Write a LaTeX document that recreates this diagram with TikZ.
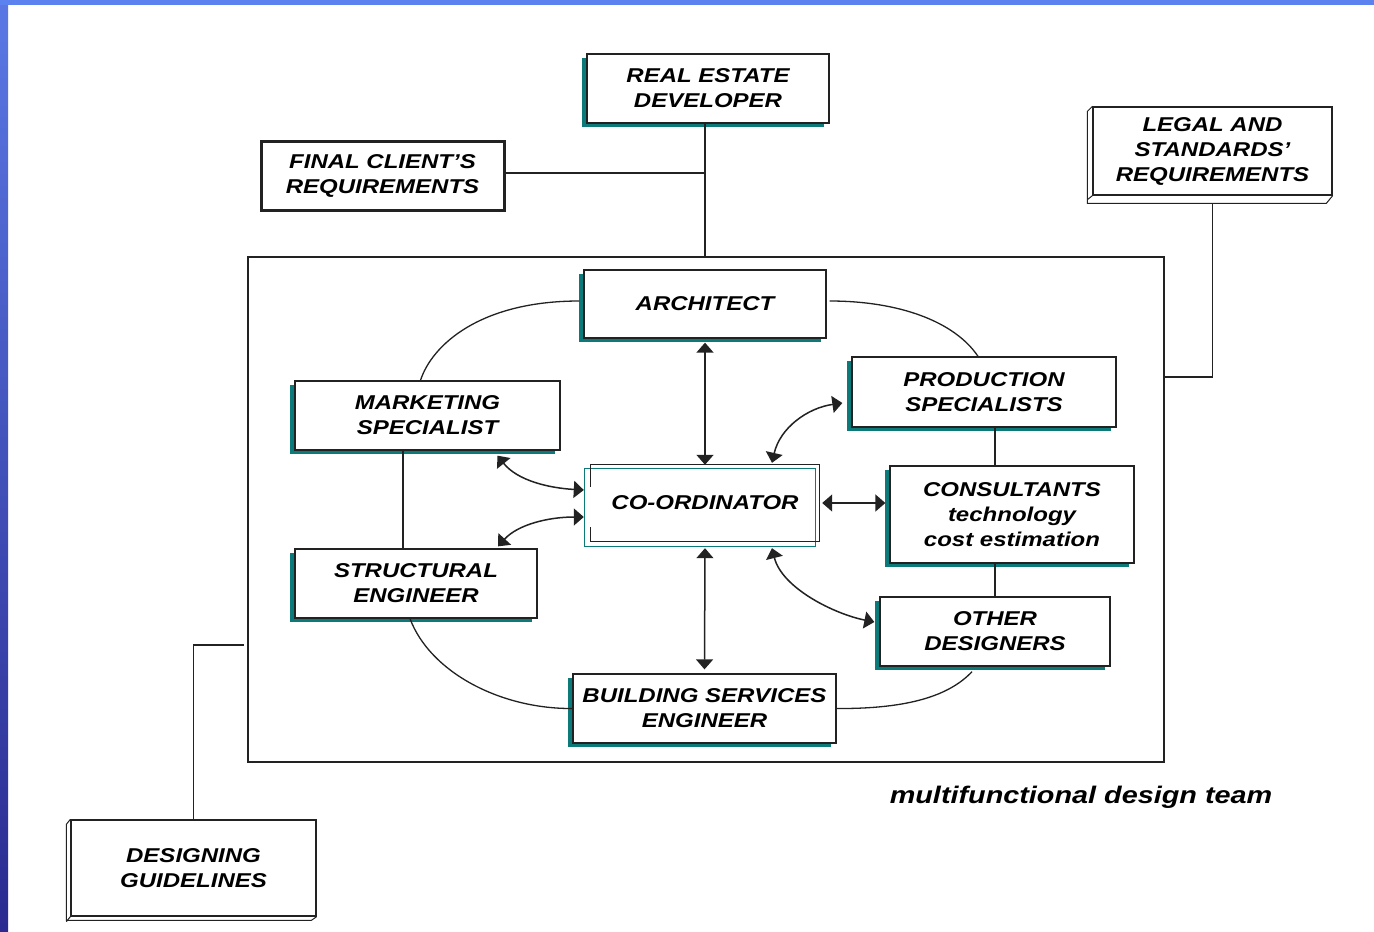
\documentclass[tikz,border=0pt]{standalone}
\usepackage{fontspec}
\usetikzlibrary{arrows.meta,shadows,calc}
\newfontfamily\boxfont{Liberation Sans}[FakeStretch=1.2]
\definecolor{tealsh}{HTML}{0B7A78}
\definecolor{linec}{HTML}{222222}
\definecolor{bluetop}{HTML}{5C82F0}
\definecolor{bluea}{HTML}{5A78E4}
\definecolor{blueb}{HTML}{2222A8}
\definecolor{bluec}{HTML}{2A2A90}
\tikzset{
  txt/.style={font=\boxfont\bfseries\itshape\fontsize{20}{25}\selectfont, align=center, text=black},
  plainbox/.style={txt, draw=linec, line width=1.3pt, fill=white, inner sep=0pt},
  sbox/.style={plainbox, general shadow={fill=tealsh, shadow xshift=-5pt, shadow yshift=-4pt}},
  thickbox/.style={plainbox, line width=3pt},
  conn/.style={draw=linec, line width=1.3pt},
  arr/.style={conn, line width=1.5pt, {Triangle[length=10pt,width=17pt]}-{Triangle[length=10pt,width=17pt]}},
}
\begin{document}
\begin{tikzpicture}[x=1pt,y=-1pt]
\useasboundingbox (0,0) rectangle (1374,932);
\fill[white] (0,0) rectangle (1374,932);
\shade[top color=bluea, middle color=blueb, bottom color=bluec] (0,0) rectangle (8,932);
\fill[bluetop] (0,0) rectangle (1374,5);

% team frame
\node[draw=linec, line width=1.2pt, minimum width=916, minimum height=505, inner sep=0pt] (team) at (706,509.5) {};

% outer nodes
\node[sbox, minimum width=242, minimum height=69] (red) at (708,88.5) {REAL ESTATE\\DEVELOPER};
\node[thickbox, minimum width=243, minimum height=69] (fcr) at (382.5,175.5) {FINAL CLIENT’S\\REQUIREMENTS};
\node[plainbox, minimum width=239, minimum height=88] (legal) at (1212.5,151) {LEGAL AND\\STANDARDS’\\REQUIREMENTS};
\node[plainbox, minimum width=245, minimum height=96] (dg) at (193.5,868) {DESIGNING\\GUIDELINES};
% bevels
\draw[linec, line width=1pt] (legal.north west) -- ++(-5,5) -- ++(0,92) -- ++(239,0) -- (legal.south east);
\draw[linec, line width=1pt] (legal.south west) -- ++(-5,4);
\draw[linec, line width=1pt] (dg.north west) -- ++(-4,5) -- ++(0,96) -- ++(245,0) -- (dg.south east);
\draw[linec, line width=1pt] (dg.south west) -- ++(-4,5);

% inner nodes
\node[sbox, minimum width=242, minimum height=68] (arch) at (705,304) {ARCHITECT};
\node[sbox, minimum width=265, minimum height=69] (mkt) at (427.5,415.5) {MARKETING\\SPECIALIST};
\node[sbox, minimum width=264, minimum height=70] (prod) at (984,392) {PRODUCTION\\SPECIALISTS};
\node[sbox, minimum width=244, minimum height=97] (cons) at (1012,514.5) {CONSULTANTS\\technology\\cost estimation};
\node[sbox, minimum width=242, minimum height=69] (str) at (416,583.5) {STRUCTURAL\\ENGINEER};
\node[sbox, minimum width=230, minimum height=69] (oth) at (995,631.5) {OTHER\\DESIGNERS};
\node[sbox, minimum width=263, minimum height=69] (bse) at (704.5,708.5) {BUILDING SERVICES\\ENGINEER};
\node[txt, minimum width=228, minimum height=76, inner sep=0pt] (coord) at (705,503) {CO-ORDINATOR};
\draw[tealsh, line width=1pt] ([xshift=-6pt,yshift=-4pt]coord.north west) rectangle ([xshift=-4pt,yshift=-5pt]coord.south east);
\draw[linec, line width=1.3pt] ([yshift=-22pt]coord.north west) -- (coord.north west) -- (coord.north east) -- (coord.south east) -- (coord.south west) -- ([yshift=14pt]coord.south west);

\node[txt, font=\boxfont\bfseries\itshape\fontsize{24}{28}\selectfont] (lab) at (1081,797) {multifunctional design team};

% outer connectors
\draw[conn] (red.south -| arch) -- (team.north -| arch);
\draw[conn] ([yshift=2.5pt]fcr.east) -- ([yshift=2.5pt]fcr.east -| arch);
\draw[conn] ([yshift=-8pt]legal.south) |- ([yshift=132.5pt]team.east);
\draw[conn] (dg.north) |- ([xshift=-3pt,yshift=-135.5pt]team.west);

% arcs and lines
\draw[conn] ([xshift=-4pt,yshift=3pt]arch.west) .. controls (480,301) and (432,345) .. ([xshift=-7pt]mkt.north);
\draw[conn] ([xshift=3pt,yshift=3pt]arch.east) .. controls (900,301) and (955,322) .. ([xshift=-6pt]prod.north);
\draw[conn] ([xshift=-24.5pt]mkt.south) -- ([xshift=-24.5pt]mkt.south |- str.north);
\draw[conn] (prod.south -| oth) -- (cons.north -| oth);
\draw[conn] (cons.south -| oth) -- (oth.north);
\draw[conn] ([xshift=-6pt]str.south) .. controls (430,672) and (500,709) .. (bse.west);
\draw[conn] (bse.east) .. controls (910,709) and (950,695) .. ([xshift=-23pt,yshift=-5pt]oth.south);

% arrows
\draw[arr] ([yshift=-4pt]arch.south) -- (coord.north);
\draw[arr] ([yshift=-7pt]coord.south) -- ([yshift=4pt]bse.north);
\draw[arr] ([xshift=3pt]coord.east) -- ([xshift=-4pt]cons.west |- coord.east);
\draw[arr] ([xshift=70pt,yshift=-5pt]mkt.south) .. controls +(20,25) and +(-35,-2) .. ([xshift=-7pt,yshift=13pt]coord.west);
\draw[arr] ([xshift=82pt,yshift=2pt]str.north) .. controls +(20,-22) and +(-35,0) .. ([xshift=-7pt,yshift=-14pt]coord.west);
\draw[arr] ([xshift=67pt,yshift=2pt]coord.north) .. controls +(8,-35) and +(-35,5) .. ([xshift=-9pt,yshift=-11pt]prod.west);
\draw[arr] ([xshift=67pt,yshift=-7pt]coord.south) .. controls +(10,40) and +(-40,-8) .. ([xshift=-5pt,yshift=9.5pt]oth.west);
\end{tikzpicture}
\end{document}
